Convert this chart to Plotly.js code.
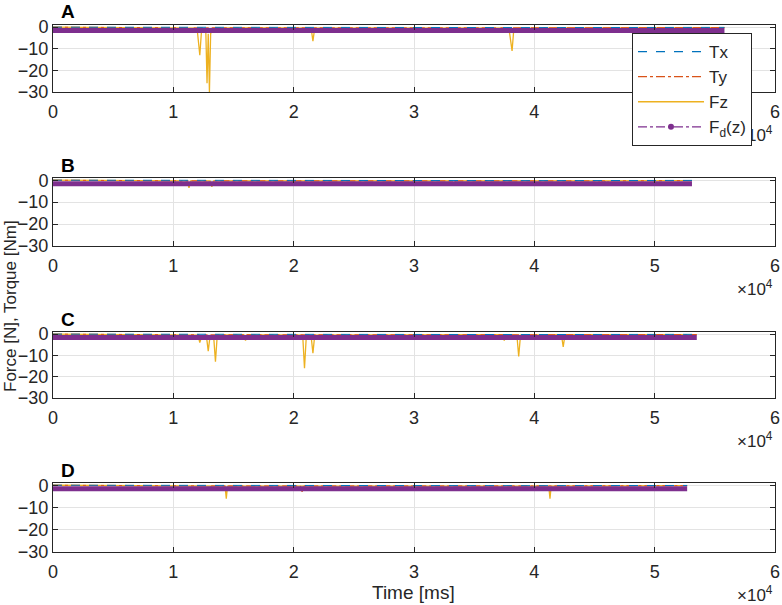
<!DOCTYPE html>
<html>
<head>
<meta charset="utf-8">
<script src="https://cdn.plot.ly/plotly-3.0.1.min.js"></script>
<style>html,body{margin:0;padding:0;background:#fff;}#plot{width:782px;height:605px;}</style>
</head>
<body>
<div id="plot"></div>
<script>
// ---- data (time in ms, force/torque values) ----
const panelLabels = ['A', 'B', 'C', 'D'];
const xTickVals = [0, 10000, 20000, 30000, 40000, 50000, 60000];
const xTickText = ['0', '1', '2', '3', '4', '5', '6'];
const yTickVals = [-30, -20, -10, 0];

// Panel A
const txA_t = [0, 20000, 40000, 55800];
const txA   = [0, -0.2, -0.2, -0.1];
const tyA_t = [0, 11300, 11500, 11700, 36800, 37000, 37200, 55800];
const tyA   = [0, -0.3, -1.8, -0.3, -0.3, -2.2, -0.3, -0.2];
const fzA_t = [0, 5000, 11700, 12000, 12200, 12350, 12700, 12800, 12900, 13000, 13100, 13300, 16000, 21450, 21600, 21750, 30000, 37800, 37950, 38150, 38300, 46000, 55800];
const fzA   = [0, -0.2, -0.5, -2, -13, -1, -2, -26, -3, -30, -3, -0.5, -0.3, -0.5, -6.5, -0.4, -0.3, -0.5, -3, -11, -0.5, -0.3, -0.2];
const fdA_t = [0, 55800];
const fdA   = [-1.6, -1.6];

// Panel B
const txB_t = [0, 20000, 40000, 53100];
const txB   = [0, -0.2, -0.2, -0.1];
const tyB_t = [0, 10350, 10500, 10650, 12950, 13100, 13250, 45850, 46000, 46150, 53100];
const tyB   = [0, -0.3, -2.2, -0.3, -0.3, -2.6, -0.3, -0.3, -2.2, -0.3, -0.2];
const fzB_t = [0, 11150, 11300, 11450, 13050, 13200, 13350, 19850, 20000, 20150, 33150, 33300, 33450, 45350, 45500, 45650, 53100];
const fzB   = [0, -0.3, -3.5, -0.3, -0.3, -3, -0.3, -0.3, -2.5, -0.3, -0.3, -2.5, -0.3, -0.3, -2, -0.3, -0.2];
const fdB_t = [0, 53100];
const fdB   = [-1.6, -1.6];

// Panel C
const txC_t = [0, 20000, 40000, 53500];
const txC   = [0, -0.2, -0.2, -0.1];
const tyC_t = [0, 12150, 12300, 12450, 37450, 37600, 37750, 53500];
const tyC   = [0, -0.3, -2, -0.3, -0.3, -2.5, -0.3, -0.2];
const fzC_t = [0, 12050, 12200, 12350, 12750, 12900, 13050, 13350, 13500, 13650, 15850, 16000, 16150, 20750, 20900, 21050, 21450, 21600, 21750, 37350, 37500, 37650, 38550, 38700, 38850, 42250, 42400, 42550, 53500];
const fzC   = [0, -0.5, -4, -1, -1, -8, -1, -1, -13, -0.5, -0.3, -3, -0.3, -0.5, -16, -1, -1, -9, -0.5, -0.3, -3, -0.3, -0.5, -10.5, -0.5, -0.3, -6, -0.3, -0.2];
const fdC_t = [0, 53500];
const fdC   = [-1.6, -1.6];

// Panel D
const txD_t = [0, 20000, 40000, 52700];
const txD   = [0, -0.2, -0.2, -0.1];
const tyD_t = [0, 12850, 13000, 13150, 20550, 20700, 20850, 38350, 38500, 38650, 52700];
const tyD   = [0, -0.3, -2, -0.3, -0.3, -3, -0.3, -0.3, -2.5, -0.3, -0.2];
const fzD_t = [0, 14300, 14400, 14500, 41200, 41300, 41400, 52700];
const fzD   = [0, -0.4, -6, -0.4, -0.4, -6, -0.4, -0.2];
const fdD_t = [0, 52700];
const fdD   = [-1.6, -1.6];

const panels = [
  {tx: [txA_t, txA], ty: [tyA_t, tyA], fz: [fzA_t, fzA], fd: [fdA_t, fdA]},
  {tx: [txB_t, txB], ty: [tyB_t, tyB], fz: [fzB_t, fzB], fd: [fdB_t, fdB]},
  {tx: [txC_t, txC], ty: [tyC_t, tyC], fz: [fzC_t, fzC], fd: [fdC_t, fdC]},
  {tx: [txD_t, txD], ty: [tyD_t, tyD], fz: [fzD_t, fzD], fd: [fdD_t, fdD]}
];

// ---- styling ----
const C_TX = '#0072BD', C_TY = '#D95319', C_FZ = '#EDB120', C_FD = '#7E2F8E';
const FONT = 'Liberation Sans, Arial, Helvetica, sans-serif';
const AX = '#262626';
const W = 605;
// plot-area pixel rows (top, bottom) per panel
const rows = [[25, 92], [178, 246], [332, 398], [483, 552]];

const traces = [];
panels.forEach((p, i) => {
  const xa = i === 0 ? 'x' : 'x' + (i + 1);
  const ya = i === 0 ? 'y' : 'y' + (i + 1);
  traces.push({x: p.fz[0], y: p.fz[1], xaxis: xa, yaxis: ya, mode: 'lines', line: {color: C_FZ, width: 1.3}, showlegend: false, hoverinfo: 'skip'});
  traces.push({x: p.ty[0], y: p.ty[1], xaxis: xa, yaxis: ya, mode: 'lines', line: {color: C_TY, width: 1, dash: 'dashdot'}, showlegend: false, hoverinfo: 'skip'});
  traces.push({x: p.tx[0], y: p.tx[1], xaxis: xa, yaxis: ya, mode: 'lines', line: {color: C_TX, width: 1, dash: 'dash'}, showlegend: false, hoverinfo: 'skip'});
  traces.push({x: p.fd[0], y: p.fd[1], xaxis: xa, yaxis: ya, mode: 'lines', line: {color: C_FD, width: 5}, showlegend: false, hoverinfo: 'skip'});
});
// legend-only entries
traces.push({x: [null], y: [null], name: 'Tx', mode: 'lines', line: {color: C_TX, width: 1.2, dash: 'dash'}});
traces.push({x: [null], y: [null], name: 'Ty', mode: 'lines', line: {color: C_TY, width: 1.2, dash: 'dashdot'}});
traces.push({x: [null], y: [null], name: 'Fz', mode: 'lines', line: {color: C_FZ, width: 1.5}});
traces.push({x: [null], y: [null], name: 'F<sub>d</sub>(z)', mode: 'lines+markers', line: {color: C_FD, width: 1.2, dash: 'dashdot'}, marker: {color: C_FD, size: 6}});

const layout = {
  width: 782, height: 605,
  margin: {l: 53, r: 7, t: 0, b: 0},
  paper_bgcolor: '#fff', plot_bgcolor: '#fff',
  font: {family: FONT, size: 17, color: AX},
  showlegend: true,
  legend: {
    x: (632 - 53) / 722, y: 1 - 33 / W, xanchor: 'left', yanchor: 'top',
    bgcolor: '#fff', bordercolor: AX, borderwidth: 1,
    font: {family: FONT, size: 17, color: AX},
    tracegroupgap: 0, itemwidth: 66
  },
  annotations: [],
};

rows.forEach((r, i) => {
  const sfx = i === 0 ? '' : String(i + 1);
  const dom = [1 - r[1] / W, 1 - r[0] / W];
  layout['xaxis' + sfx] = {
    domain: [0, 1], anchor: 'y' + sfx, range: [0, 60000],
    tickvals: xTickVals, ticktext: xTickText,
    ticks: 'inside', ticklen: 5, tickcolor: AX, mirror: 'ticks',
    showline: true, linecolor: AX, linewidth: 1,
    showgrid: true, gridcolor: '#e3e3e3', gridwidth: 1, zeroline: false,
    ticklabelstandoff: 3,
    tickfont: {family: FONT, size: 18, color: AX}
  };
  layout['yaxis' + sfx] = {
    domain: dom, anchor: 'x' + sfx, range: [-30, 1],
    tickvals: yTickVals,
    ticks: 'inside', ticklen: 5, tickcolor: AX, mirror: 'ticks',
    showline: true, linecolor: AX, linewidth: 1,
    showgrid: true, gridcolor: '#e3e3e3', gridwidth: 1, zeroline: false,
    tickfont: {family: FONT, size: 18, color: AX}
  };
  layout.annotations.push({
    text: '<b>' + panelLabels[i] + '</b>', xref: 'paper', yref: 'paper',
    x: (68 - 53) / 722, y: 1 - (r[0] - 13) / W, xanchor: 'center', yanchor: 'middle',
    showarrow: false, font: {family: FONT, size: 19, color: '#000'}
  });
  layout.annotations.push({
    text: '×10<sup>4</sup>', xref: 'paper', yref: 'paper',
    x: (775 - 53) / 722, y: 1 - (r[1] + 42) / W, xanchor: 'right', yanchor: 'middle',
    showarrow: false, font: {family: FONT, size: 17, color: AX}
  });
});

layout.annotations.push({
  text: 'Force [N], Torque [Nm]', xref: 'paper', yref: 'paper',
  x: (10 - 53) / 722, y: 1 - 306 / W, xanchor: 'center', yanchor: 'middle',
  textangle: -90, showarrow: false, font: {family: FONT, size: 17, color: AX}
});
layout.annotations.push({
  text: 'Time [ms]', xref: 'paper', yref: 'paper',
  x: (413 - 53) / 722, y: 1 - 592 / W, xanchor: 'center', yanchor: 'middle',
  showarrow: false, font: {family: FONT, size: 19, color: AX}
});

Plotly.newPlot('plot', traces, layout, {staticPlot: true, displayModeBar: false}).then(gd => {
  // keep the legend box on top of the panel-A exponent label, as in the reference
  const lg = gd.querySelector('g.legend');
  if (lg && lg.parentNode) lg.parentNode.appendChild(lg);
});
</script>
</body>
</html>
